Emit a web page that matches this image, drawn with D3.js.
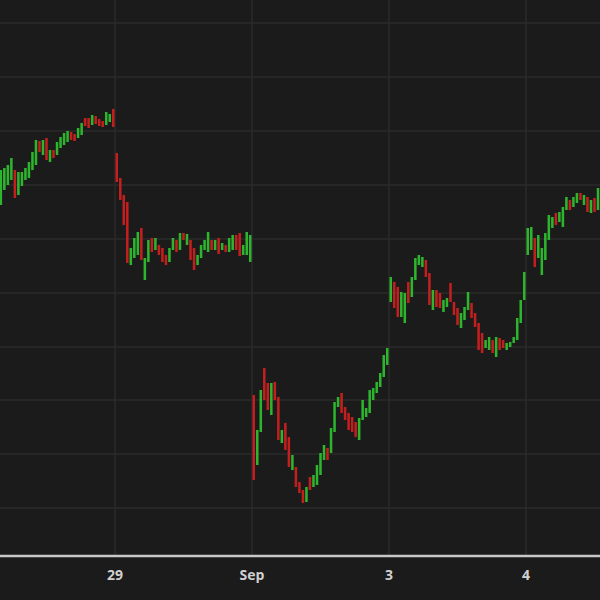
<!DOCTYPE html>
<html>
<head>
<meta charset="utf-8">
<script src="https://cdn.jsdelivr.net/npm/d3@7"></script>
<style>
  body { margin: 0; background: #1b1b1b; }
  svg { display: block; }
</style>
</head>
<body>
<div id="chart"></div>
<script>
// bar values (one bar per 10 minutes)
const opens = [395,410,415,420,430,405,414,420,422,430,435,459,445,462,438,450,445,452,455,458,468,466,462,465,482,482,475,484,481,479,475,478,491,
  447,422,405,398,335,342,345,372,320,338,362,350,355,352,345,338,350,360,350,367,355,360,352,335,342,350,348,360,350,362,350,355,348,350,365,367,345,345,338,
  205,135,168,232,217,185,218,203,157,177,163,130,133,118,110,98,123,113,115,125,140,152,147,168,193,207,193,187,183,178,160,180,183,187,200,207,213,223,235,
  298,318,313,283,277,318,303,320,335,333,340,327,290,310,307,288,293,317,298,292,272,280,290,297,287,277,267,252,250,260,243,262,260,250,253,257,260,277,300,
  345,350,362,342,325,340,360,372,387,378,373,390,400,393,397,407,395,403,387,402,390];
const closes = [430,432,435,442,402,428,428,432,438,448,460,448,460,440,450,442,458,463,467,469,460,459,472,477,474,472,485,476,474,473,488,486,473,
  418,400,375,337,352,362,368,340,342,360,348,362,345,338,335,352,362,348,367,360,366,340,330,345,355,360,368,350,360,346,357,348,362,365,350,344,355,368,365,
  120,170,210,200,190,217,200,160,170,150,133,145,113,107,97,113,110,125,135,147,155,140,172,198,203,187,180,170,168,163,182,200,192,210,212,218,227,245,252,
  323,292,283,308,307,297,323,342,345,343,323,295,310,293,292,300,302,298,285,275,287,293,308,282,273,250,247,260,263,247,263,250,252,257,258,263,282,300,328,
  372,373,333,365,352,367,385,383,375,388,393,403,390,403,407,400,405,388,400,388,412];
const tickIdx = [33, 72, 111, 150];
const tickLabels = ["29", "Sep", "3", "4"];
const gridVals = [577, 523, 469, 415, 361, 307, 253, 200, 146, 92];

const width = 600, height = 600, plotBottom = 556;

const svg = d3.select("#chart").append("svg")
    .attr("width", width)
    .attr("height", height);

svg.append("rect").attr("width", width).attr("height", height).attr("fill", "#1b1b1b");

let x = d3.scaleLinear().domain([33, 72]).range([115, 252]);
let y = d3.scaleLinear().domain([44, 600]).range([plotBottom, 0]);

// grid
svg.append("g").selectAll("line").data(gridVals).enter().append("line")
    .attr("x1", 0).attr("x2", width)
    .attr("y1", d => y(d)).attr("y2", d => y(d))
    .attr("stroke", "#2b2b2b").attr("stroke-width", 1.5);
svg.append("g").selectAll("line").data(tickIdx).enter().append("line")
    .attr("x1", d => x(d)).attr("x2", d => x(d))
    .attr("y1", 0).attr("y2", plotBottom)
    .attr("stroke", "#2b2b2b").attr("stroke-width", 1.5);

// bars
const bw = (x(1) - x(0)) * 0.72;
svg.append("g").selectAll("rect").data(opens).enter().append("rect")
    .attr("x", (d, i) => x(i + 0.5) - bw / 2)
    .attr("y", (d, i) => y(Math.max(d, closes[i])))
    .attr("width", bw)
    .attr("height", (d, i) => Math.abs(y(d) - y(closes[i])))
    .attr("fill", (d, i) => closes[i] >= d ? "#2eb52e" : "#c41f1f");

// x axis
svg.append("line")
    .attr("x1", 0).attr("x2", width)
    .attr("y1", plotBottom).attr("y2", plotBottom)
    .attr("stroke", "#c8c8c8").attr("stroke-width", 2.5);
svg.append("g").selectAll("text").data(tickIdx).enter().append("text")
    .attr("x", d => x(d))
    .attr("y", 580)
    .attr("text-anchor", "middle")
    .attr("fill", "#d0d0d0")
    .style("font-family", "Open Sans, sans-serif")
    .style("font-size", "14px")
    .style("font-weight", "bold")
    .text((d, i) => tickLabels[i]);
</script>
</body>
</html>
